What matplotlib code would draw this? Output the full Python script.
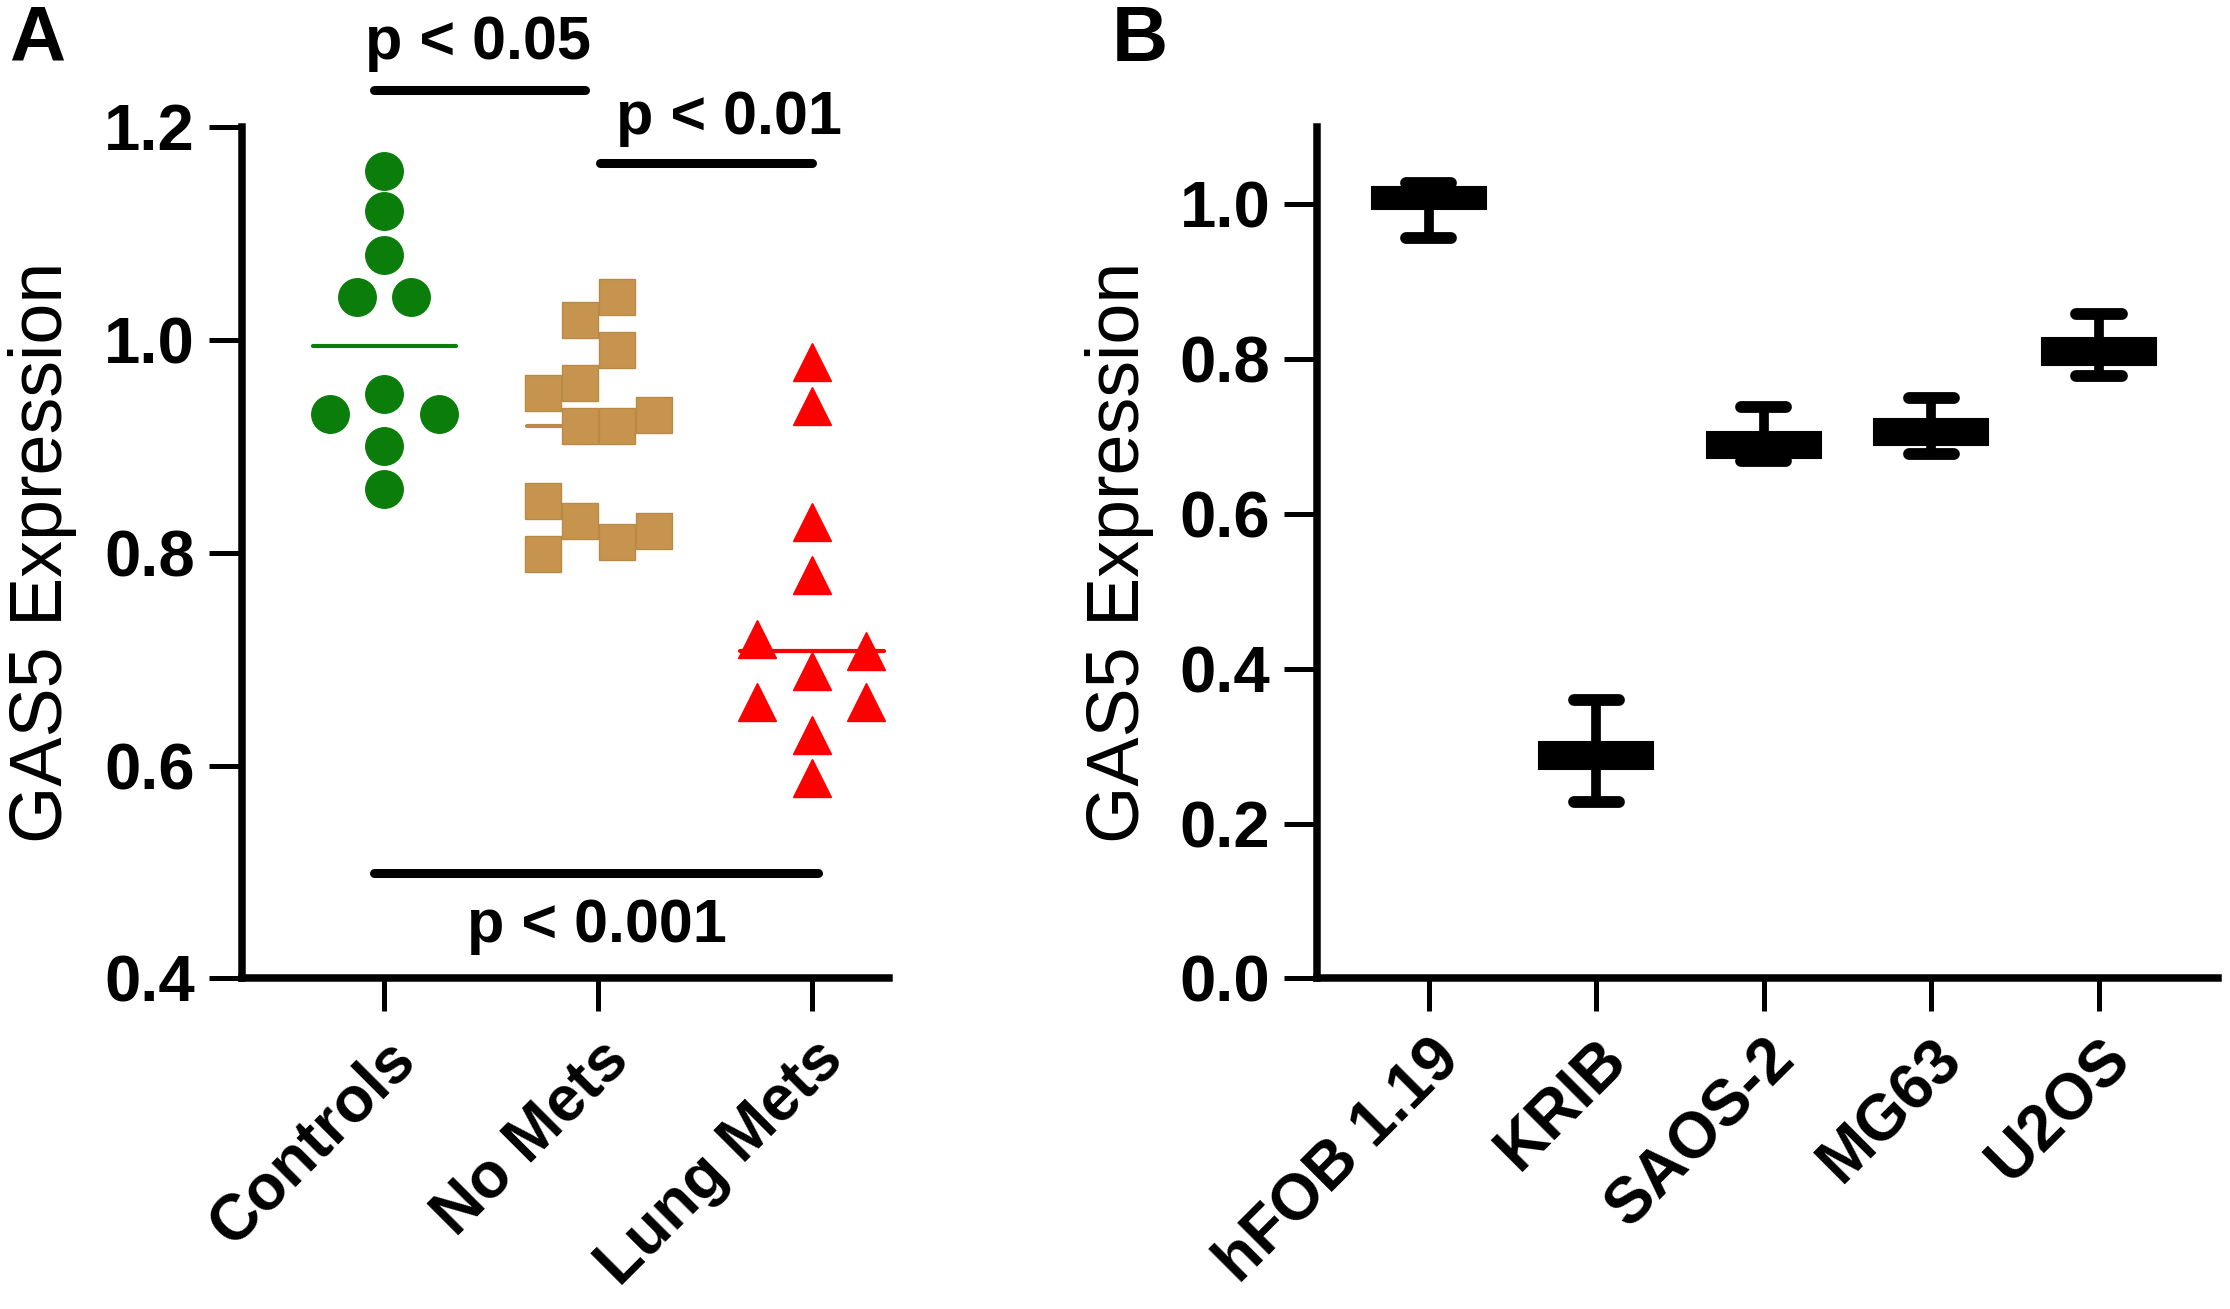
import numpy as np
import matplotlib
matplotlib.use("Agg")
import matplotlib.pyplot as plt

plt.rcParams['font.family'] = ['Liberation Sans', 'DejaVu Sans']

# Panel A data: GAS5 expression per patient group
groups = ['Controls', 'No Mets', 'Lung Mets']
ctrl_vals = [1.159, 1.121, 1.080, 1.040, 1.040, 0.949, 0.930, 0.930, 0.900, 0.860]
nomets_vals = [1.040, 1.019, 0.990, 0.959, 0.950, 0.929, 0.919, 0.919,
               0.849, 0.830, 0.820, 0.810, 0.799]
lung_vals = [0.979, 0.938, 0.829, 0.779, 0.719, 0.708, 0.689, 0.660, 0.660,
             0.629, 0.588]
# horizontal spread of the dots inside each column (category units)
ctrl_dx = [0, 0, 0, -0.127, 0.127, 0, -0.255, 0.255, 0, 0]
nomets_dx = [0.087, -0.087, 0.087, -0.087, -0.26, 0.26, -0.087, 0.087,
             -0.26, -0.087, 0.26, 0.087, -0.26]
lung_dx = [0, 0, 0, 0, -0.255, 0.255, 0, -0.255, 0.255, 0, 0]

# significance brackets: (from group, to group, height, label)
sig_pairs = [(0, 1, 1.235, 'p < 0.05'),
             (1, 2, 1.166, 'p < 0.01'),
             (0, 2, 0.499, 'p < 0.001')]
sig_text_y = [1.264, 1.193, 0.434]
sig_text_x = [0.436, 1.61, 0.993]
sig_x0 = [-0.047, 1.007, -0.047]
sig_x1 = [0.94, 2.0, 2.03]

# Panel B data: cell lines (whisker low, q1, q3, whisker high)
cell_lines = ['hFOB 1.19', 'KRIB', 'SAOS-2', 'MG63', 'U2OS']
whis_lo = [0.956, 0.228, 0.668, 0.678, 0.778]
box_q1 = [0.994, 0.270, 0.672, 0.689, 0.793]
box_q3 = [1.023, 0.305, 0.706, 0.723, 0.828]
whis_hi = [1.027, 0.360, 0.738, 0.750, 0.859]

fig = plt.figure(figsize=(22.3, 13.09), dpi=100)
axA = fig.add_axes([0.1085, 0.2525, 0.2901, 0.6505])
axB = fig.add_axes([0.5908, 0.2525, 0.4038, 0.6505])

spine_lw = 5.4
tick_fs = 47
cat_fs = 46


def style_axis(ax):
    for s in ['top', 'right']:
        ax.spines[s].set_visible(False)
    for s in ['left', 'bottom']:
        ax.spines[s].set_linewidth(spine_lw)
    ax.tick_params(axis='both', length=24, width=3.6, direction='out')
    ax.tick_params(axis='y', pad=10, labelsize=tick_fs)
    ax.tick_params(axis='x', pad=12)
    for lab in ax.get_yticklabels():
        lab.set_fontweight('bold')


# ---- Panel A ----
xs = np.arange(len(groups))
axA.plot(xs[0] + np.array(ctrl_dx), ctrl_vals, 'o', ms=27, color='#0a7d0a',
         mec='#0a7d0a', zorder=3)
axA.plot(xs[1] + np.array(nomets_dx), nomets_vals, 's', ms=26.5,
         color='#c6944e', mec='#b98a47', mew=1, zorder=3)
axA.plot(xs[2] + np.array(lung_dx), lung_vals, '^', ms=27.5, color='#ff0000',
         mec='#ff0000', zorder=3)

for i, (vals, col) in enumerate([(ctrl_vals, '#0a7d0a'),
                                 (nomets_vals, '#b98a47'),
                                 (lung_vals, '#ff0000')]):
    m = np.median(vals)
    axA.plot([xs[i] - 0.335, xs[i] + 0.335], [m, m], color=col, lw=3,
             zorder=2, solid_capstyle='round')

for k, (a, b, h, txt) in enumerate(sig_pairs):
    axA.plot([sig_x0[k], sig_x1[k]], [h, h], color='black', lw=6.5,
             clip_on=False, solid_capstyle='round')
    axA.text(sig_text_x[k], sig_text_y[k], txt, ha='center', va='baseline',
             fontsize=44, fontweight='bold', clip_on=False)

axA.set_xlim(-0.666, 2.36)
axA.set_ylim(0.4, 1.2)
axA.set_yticks([0.4, 0.6, 0.8, 1.0, 1.2])
axA.set_yticklabels(['%.1f' % t for t in [0.4, 0.6, 0.8, 1.0, 1.2]])
axA.set_xticks(xs)
axA.set_xticklabels(groups, rotation=45, ha='right', rotation_mode='anchor',
                    fontsize=cat_fs, fontweight='bold')
axA.set_ylabel('GAS5 Expression', fontsize=53)
axA.yaxis.set_label_coords(-0.255, 0.5)
style_axis(axA)

# ---- Panel B ----
stats = []
for name, lo, q1, q3, hi in zip(cell_lines, whis_lo, box_q1, box_q3, whis_hi):
    stats.append(dict(label=name, whislo=lo, q1=q1, med=(q1 + q3) / 2,
                      q3=q3, whishi=hi))
pos = np.arange(len(cell_lines))
axB.bxp(stats, positions=pos, widths=0.68, patch_artist=True,
        showfliers=False, capwidths=0.27,
        boxprops=dict(facecolor='black', edgecolor='black', linewidth=1.5),
        whiskerprops=dict(color='black', linewidth=7),
        capprops=dict(color='black', linewidth=8.5, solid_capstyle='round'),
        medianprops=dict(color='black', linewidth=1))

axB.set_xlim(-0.664, 4.71)
axB.set_ylim(0.0, 1.1)
yt = [0.0, 0.2, 0.4, 0.6, 0.8, 1.0]
axB.set_yticks(yt)
axB.set_yticklabels(['%.1f' % t for t in yt])
axB.set_xticks(pos)
axB.set_xticklabels(cell_lines, rotation=45, ha='right', rotation_mode='anchor',
                    fontsize=cat_fs, fontweight='bold')
axB.set_ylabel('GAS5 Expression', fontsize=53)
axB.yaxis.set_label_coords(-0.181, 0.5)
style_axis(axB)

fig.text(0.004, 0.997, 'A', fontsize=56, fontweight='bold', va='top', ha='left')
fig.text(0.4985, 0.997, 'B', fontsize=56, fontweight='bold', va='top', ha='left')

fig.savefig('out.png', dpi=100, facecolor='white')
